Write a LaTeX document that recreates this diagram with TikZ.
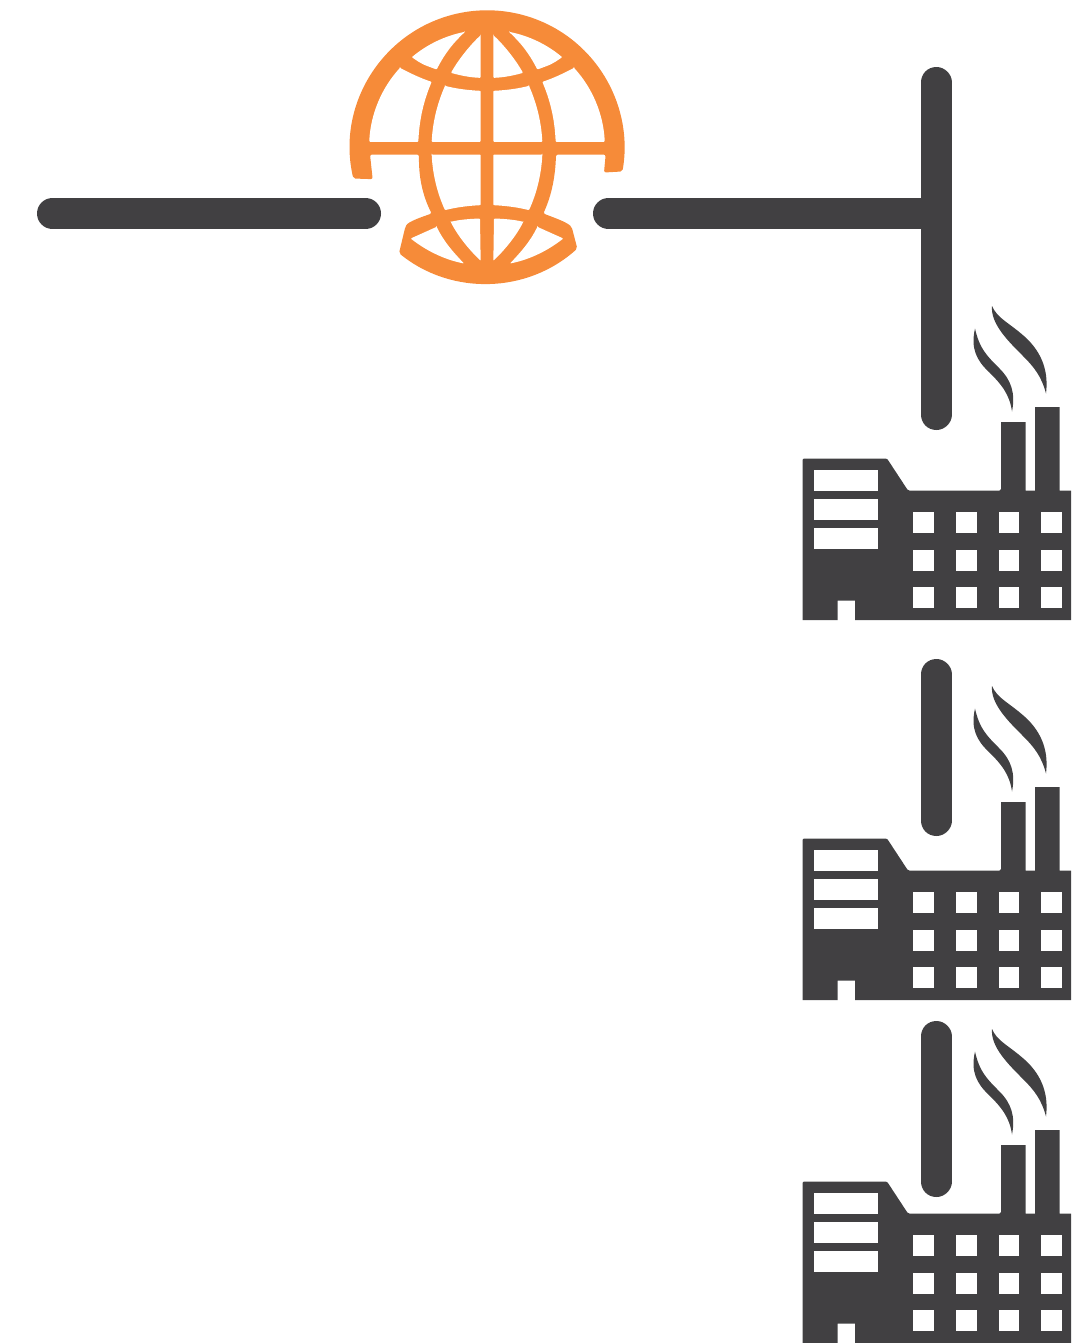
\documentclass[tikz,border=0pt]{standalone}
\definecolor{darkgrey}{HTML}{414042}
\definecolor{globeorange}{HTML}{F68B39}
\tikzset{
    pipe/.style={line width=23.25pt, darkgrey, line cap=round},
    win/.style={fill=white, rounded corners=0.6pt},
    pics/factory/.style={code={
        \fill[darkgrey] (0,161.5) [rounded corners=1pt] -- (0,0) -- (84.5,0) -- (105.5,32) -- (198.5,32) [sharp corners] -- (198.5,-36.5) -- (223,-36.5)
            -- (223,32) -- (232.5,32) -- (232.5,-51.5) -- (257,-51.5) -- (257,32) -- (268.5,32)
            -- (268.5,161.5) -- (52.5,161.5) -- (52.5,142) -- (35,142) -- (35,161.5) -- cycle;
        \foreach \y in {11.5,40,69}
            \fill[white] (11.5,\y) rectangle +(64,21);
        \foreach \x in {110.5,153.5,196,238.5}
            \foreach \y in {53.5,91,128.5}
                \fill[white] (\x,\y) rectangle +(20.5,21);
        \fill[darkgrey] (172.5,-130) .. controls (168,-110) and (174,-98) .. (187,-86)
            .. controls (198,-75) and (207,-65) .. (209.5,-47)
            .. controls (213,-65) and (209,-78) .. (197,-90)
            .. controls (184,-103) and (177,-110) .. cycle;
        \fill[darkgrey] (189.5,-152.5) .. controls (188,-135) and (205,-118) .. (220,-103)
            .. controls (232,-91) and (239,-82) .. (243.5,-65)
            .. controls (246,-85) and (241,-105) .. (222,-122)
            .. controls (205,-137) and (195,-140) .. cycle;
    }},
}
\begin{document}
\begin{tikzpicture}[x=0.75pt, y=-0.75pt]
    \useasboundingbox (0,0) rectangle (1081,1343);

    \coordinate (leftend) at (52.5,213.5);
    \coordinate (leftstub) at (365.5,213.5);
    \coordinate (rightstub) at (608.5,213.5);
    \coordinate (junction) at (936,213.5);
    \coordinate (trunktop) at (936,82.5);
    \coordinate (trunkend) at (936,414.5);
    \coordinate (dropatop) at (936,674.5);
    \coordinate (dropaend) at (936,820.5);
    \coordinate (dropbtop) at (936,1036.5);
    \coordinate (dropbend) at (936,1181.5);

    \draw[pipe] (leftend) -- (leftstub);
    \draw[pipe] (rightstub) -- (junction);
    \draw[pipe] (trunktop) -- (trunkend);
    \draw[pipe] (dropatop) -- (dropaend);
    \draw[pipe] (dropbtop) -- (dropbend);

    \pic at (802.5,458.5) {factory};
    \pic at (802.5,838.5) {factory};
    \pic at (802.5,1181.5) {factory};

    \begin{scope}[shift={(487,147.5)}, x=0.25pt, y=-0.25pt]
        \fill[globeorange, rounded corners=1.5pt] (-401,93) arc[start angle=167, end angle=370, radius=412]
            -- (351,75) -- (356,21) -- (207,21) .. controls (205,85) and (195,140) .. (169,198)
            .. controls (200,210) and (235,222) .. (254,238) -- (271,303)
            arc[start angle=48, end angle=129, radius=412]
            -- (-245,238) .. controls (-235,222) and (-200,210) .. (-166,198)
            .. controls (-195,140) and (-205,85) .. (-204,21) -- (-351,21) -- (-343,95) -- cycle;
        \foreach \m in {1,-1} {
            \begin{scope}[xscale=\m]
                \fill[win] (-66,-347) arc[start angle=259, end angle=230, radius=353]
                    .. controls (-195,-250) .. (-151,-234) .. controls (-125,-285) and (-100,-315) .. cycle;
                \fill[win] (-19,-337) -- (-19,-209) .. controls (-50,-210) and (-80,-216) .. (-108,-224)
                    .. controls (-85,-265) and (-50,-308) .. cycle;
                \fill[win] (-261,-239) arc[start angle=222.5, end angle=183.6, radius=353]
                    -- (-353,-17) -- (-206,-17) .. controls (-203,-85) and (-190,-140) .. (-166,-197)
                    .. controls (-200,-208) and (-235,-225) .. cycle;
                \fill[win] (-126,-185) .. controls (-150,-130) and (-163,-75) .. (-166,-17)
                    -- (-19,-17) -- (-19,-170) .. controls (-60,-172) and (-95,-177) .. cycle;
                \fill[win] (-166,21) -- (-19,21) -- (-19,173) .. controls (-60,175) and (-95,180) .. (-126,188)
                    .. controls (-150,135) and (-163,80) .. cycle;
                \fill[win] (-151,238) -- (-229,273) .. controls (-175,315) and (-120,338) .. (-69,348)
                    .. controls (-100,315) and (-128,285) .. cycle;
                \fill[win] (-109,223) .. controls (-80,216) and (-50,214) .. (-21,213) -- (-19,340)
                    .. controls (-50,310) and (-85,270) .. cycle;
            \end{scope}
        }
    \end{scope}
\end{tikzpicture}
\end{document}
